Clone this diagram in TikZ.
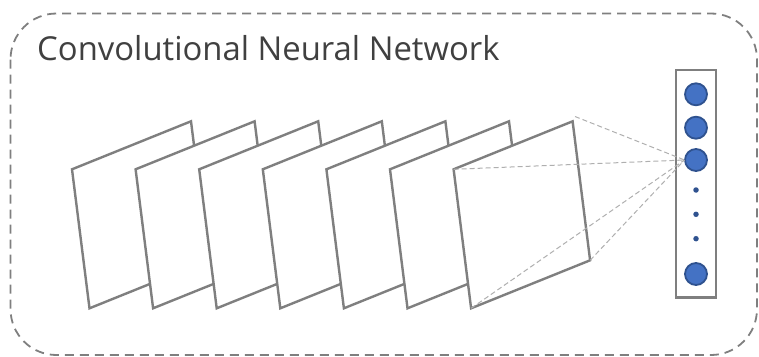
\documentclass[tikz,border=0pt]{standalone}
\usepackage{fontspec}
\setmainfont{Open Sans}
\definecolor{framegray}{HTML}{7F7F7F}
\definecolor{linkgray}{HTML}{AFAFAF}
\definecolor{nodeblue}{HTML}{4472C4}
\definecolor{nodeedge}{HTML}{2F528F}
\definecolor{textgray}{HTML}{404040}
\begin{document}
\begin{tikzpicture}[x=1pt,y=-1pt,
  outerbox/.style={draw=framegray,line width=1.8pt,dash pattern=on 9pt off 6pt,rounded corners=46pt},
  plane/.style={draw=framegray,fill=white,line width=2.4pt,line join=miter},
  vecbox/.style={draw=framegray,fill=white,line width=2.4pt},
  neuron/.style={circle,draw=nodeedge,fill=nodeblue,line width=1.8pt,minimum size=22pt,inner sep=0pt},
  vdot/.style={circle,fill=nodeedge,minimum size=5.5pt,inner sep=0pt},
  link/.style={draw=linkgray,line width=1pt,dash pattern=on 5pt off 3pt}]
\useasboundingbox (0,0) rectangle (759,356);
\draw[outerbox] (10.5,13.5) rectangle (757,355);
\node[anchor=base west,text=textgray,font=\fontsize{33}{40}\selectfont,inner sep=0pt,xscale=0.995] (title) at (37,60) {Convolutional Neural Network};
% planes
\foreach \i in {0,...,6}{
  \pgfmathsetmacro{\dx}{72+63.6*\i}
  \path[plane] (\dx,169.3) -- ++(119,-48) -- ++(17.5,139) -- ++(-119,48) -- cycle;
  \coordinate (tl\i) at (\dx,169.3);
  \coordinate (tr\i) at ({\dx+119},121.3);
  \coordinate (br\i) at ({\dx+136.5},260.3);
  \coordinate (bl\i) at ({\dx+17.5},308.3);
}
\coordinate (topstart) at (575,116.5);
% vector
\draw[vecbox] (676,70) rectangle (716,297.5);
\node[neuron] (n1) at (696,94.3) {};
\node[neuron] (n2) at (696,127.7) {};
\node[neuron] (n3) at (696,160) {};
\node[vdot] (d1) at (696,190) {};
\node[vdot] (d2) at (696,214.3) {};
\node[vdot] (d3) at (696,238.7) {};
\node[neuron] (n4) at (696,274) {};
\coordinate (hub) at (684.5,160);
\path[link] (topstart) -- (hub);
\path[link] (tl6) -- (hub);
\path[link] (bl6) -- (hub);
\path[link] (br6) -- (hub);
\end{tikzpicture}
\end{document}
